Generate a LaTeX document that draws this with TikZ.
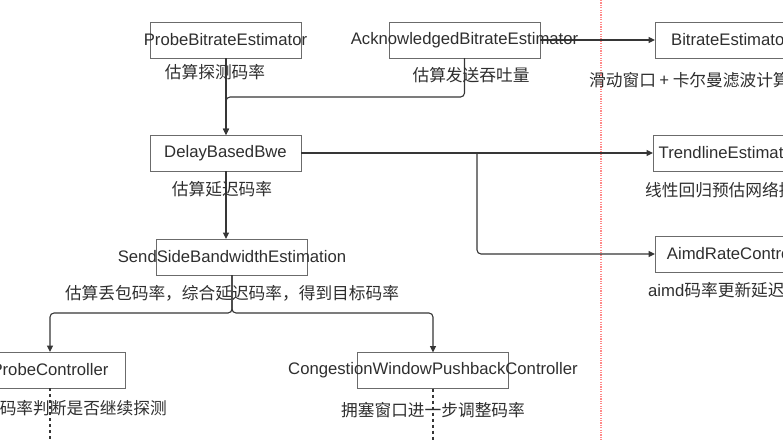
\documentclass[tikz,border=0pt]{standalone}
\usepackage{fontspec}
\setmainfont{Liberation Sans}
\newfontfamily\cjk{Noto Sans CJK SC}
\usetikzlibrary{arrows.meta}
\definecolor{boxline}{HTML}{6B6B6B}
\definecolor{conn}{HTML}{363636}
\definecolor{txtc}{HTML}{2E2E2E}
\definecolor{sep}{HTML}{FF8A8A}
\begin{document}
\begin{tikzpicture}[x=1pt,y=-1pt,
  box/.style={draw=boxline,line width=1pt,minimum width=151pt,minimum height=36pt,inner sep=0pt,outer sep=0pt},
  boxtext/.style={text=txtc,font=\fontsize{16.7}{20}\selectfont,inner sep=0pt},
  note/.style={text=txtc,font=\fontsize{16.7}{20}\selectfont\cjk,inner sep=0pt},
  link/.style={draw=conn,line width=1.1pt,rounded corners=4pt,-{Triangle[length=6.5pt,width=6pt]}},
  dashlink/.style={draw=conn,line width=1.1pt,dash pattern=on 3pt off 3pt}]
\useasboundingbox (0,0) rectangle (783,440);
\clip (0,0) rectangle (783,440);
% separator
\draw[sep,line width=1.4pt,dash pattern=on 1.2pt off 1.2pt] (601,0) -- (601,440);
% boxes
\node[box] (probe) at (225.5,40) {};
\node[box] (ack) at (464.5,40) {};
\node[box] (bitrate) at (730.5,40) {};
\node[box] (delay) at (225.5,153) {};
\node[box] (trend) at (728.5,153) {};
\node[box] (send) at (232,257) {};
\node[box] (aimd) at (730.5,254) {};
\node[box] (pctl) at (50,370) {};
\node[box] (cong) at (433,370.5) {};
% coordinates
\coordinate (jA) at (226,97);
\coordinate (jB) at (477,153);
\coordinate (jC) at (232,313);
\coordinate (pEnd) at (50,440);
\coordinate (cEnd) at (433,440);
% connectors
\draw[link] (probe.south -| jA) -- (delay.north -| jA);
\draw[link] (ack.south) |- (jA) -- (delay.north -| jA);
\draw[link] (ack.east) -- (bitrate.west);
\draw[link] (delay.east) -- (trend.west);
\draw[link] (jB) |- (aimd.west);
\draw[link] (delay.south -| jA) -- (send.north -| jA);
\draw[link] (send.south) |- (pctl.north |- jC) -- (pctl.north);
\draw[link] (send.south) |- (cong.north |- jC) -- (cong.north);
\draw[dashlink] (pctl.south) -- (pEnd);
\draw[dashlink] (cong.south) -- (cEnd);
% box texts
\node[boxtext] at (probe) {ProbeBitrateEstimator};
\node[boxtext] at (ack) {AcknowledgedBitrateEstimator};
\node[boxtext] at (bitrate) {BitrateEstimator};
\node[boxtext] at (delay) {DelayBasedBwe};
\node[boxtext] at (trend) {TrendlineEstimator};
\node[boxtext] at (send) {SendSideBandwidthEstimation};
\node[boxtext] at (aimd) {AimdRateControl};
\node[boxtext] at (pctl) {ProbeController};
\node[boxtext] at (cong) {CongestionWindowPushbackController};
% notes
\node[note] (n1) at (215,72) {估算探测码率};
\node[note] (n2) at (471,75) {估算发送吞吐量};
\node[note,anchor=west] (n3) at (589,80) {滑动窗口 + 卡尔曼滤波计算吞吐量};
\node[note] (n4) at (222,189) {估算延迟码率};
\node[note,anchor=west] (n5) at (645,190) {线性回归预估网络拥塞趋势};
\node[note] (n6) at (232,293) {估算丢包码率，综合延迟码率，得到目标码率};
\node[note,anchor=west] (n7) at (648,290) {{\fontspec{Liberation Sans}aimd}码率更新延迟码率};
\node[note,anchor=east] (n8) at (167,408) {根据探测码率判断是否继续探测};
\node[note] (n9) at (433,410) {拥塞窗口进一步调整码率};
\end{tikzpicture}
\end{document}
